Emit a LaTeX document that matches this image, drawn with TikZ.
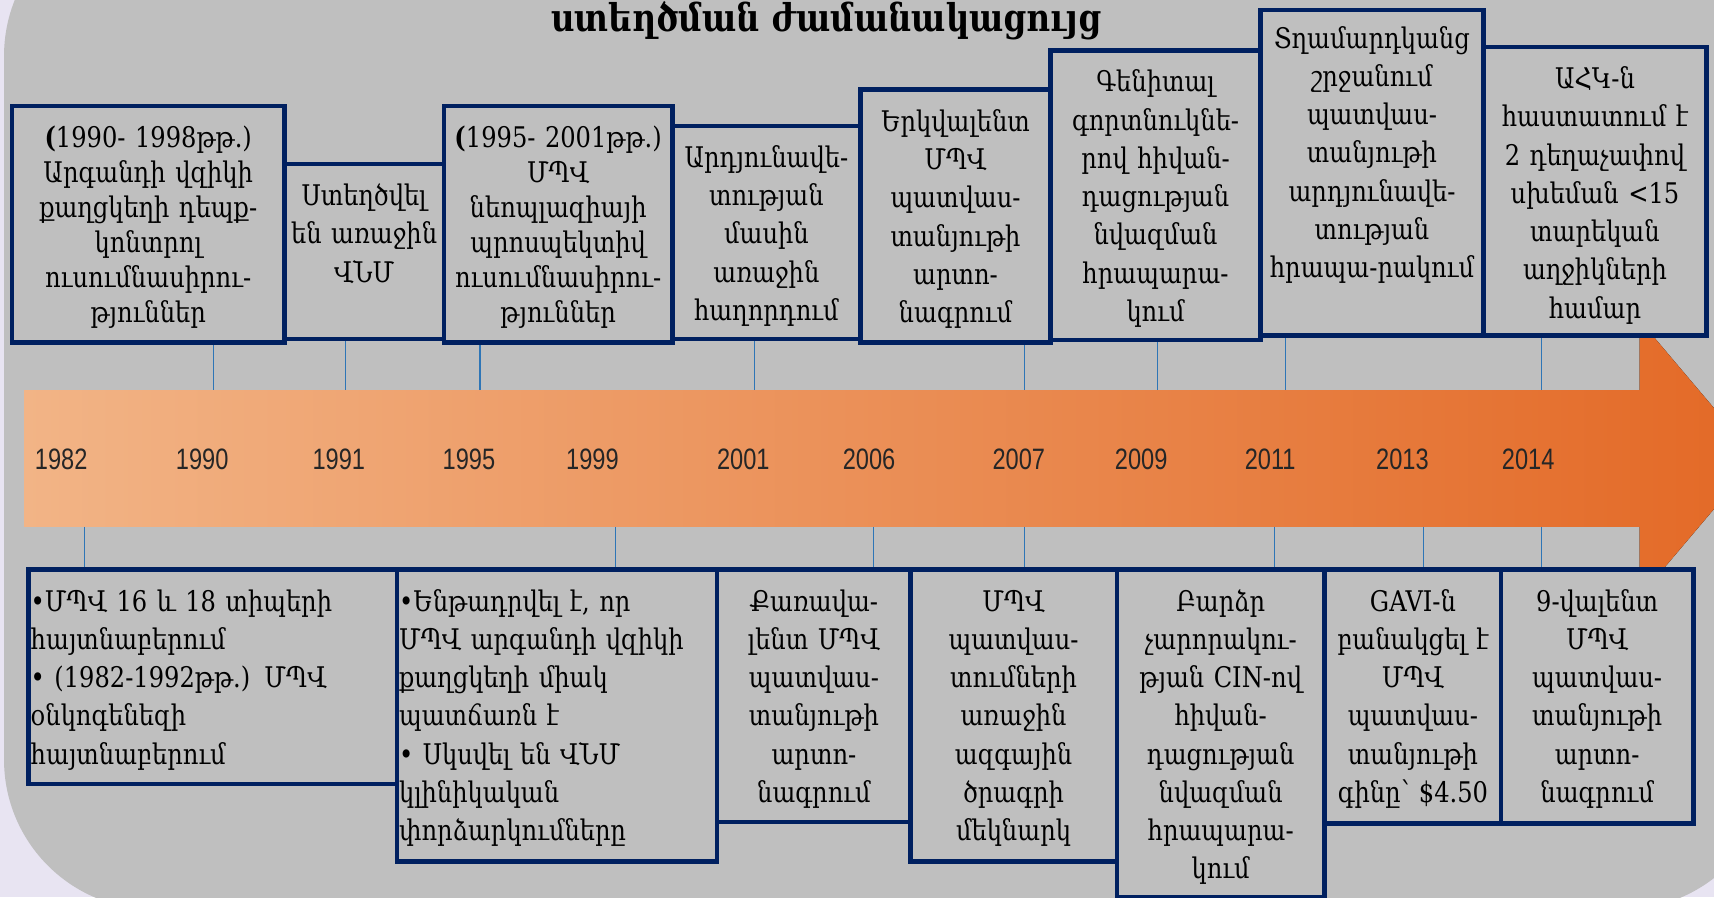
\documentclass[tikz,border=0pt]{standalone}
\usepackage{fontspec}
\setmainfont{DejaVu Serif}[FakeStretch=0.85]
\newfontfamily\yearfont{Liberation Sans}[FakeStretch=0.8]
\usetikzlibrary{positioning, backgrounds}
\definecolor{lav}{RGB}{232,228,242}
\definecolor{panel}{RGB}{191,191,191}
\definecolor{navy}{RGB}{0,32,96}
\definecolor{tickblue}{RGB}{46,117,182}
\definecolor{peach}{RGB}{242,180,134}
\definecolor{burnt}{RGB}{227,105,38}
\definecolor{yeargray}{RGB}{38,38,38}

\begin{document}
\begin{tikzpicture}[x=1pt, y=-1pt,
        card/.style={draw=navy, fill=panel, line width=4.2pt, inner xsep=3pt, inner ysep=0pt, text height=38pt, anchor=north west, align=center, font=\fontsize{26}{35}\selectfont},
        tightcard/.style={card, font=\fontsize{26}{32}\selectfont},
        leftcard/.style={card, inner xsep=2pt, align=left},
        year/.style={font=\yearfont\fontsize{27}{30}\selectfont, text=yeargray},
        tick/.style={draw=tickblue, line width=1.2pt},
        heading/.style={anchor=base, font=\bfseries\fontsize{35}{40}\selectfont}
    ]
        \useasboundingbox (0,0) rectangle (1568,821);

        % PANEL AND TIME ARROW
        \begin{scope}[on background layer]
            \clip (0,0) rectangle (1568,821);
            \fill[lav] (0,0) rectangle (1568,821);
            \fill[panel, rounded corners=137pt] (3.7,-86) rectangle (1621,832);
            \fill[left color=peach, right color=burnt] (22,357) -- (1500,357) -- (1500,293) -- (1607,419.5) -- (1500,546) -- (1500,482) -- (22,482) -- cycle;
        \end{scope}

        % TITLE
        \node[heading] (title) at (756,29) {ստեղծման ժամանակացույց};

        % UPPER EVENTS
        \node[tightcard, text width=243pt, text depth=178pt] (up1) at (9,95) {\textbf{(}1990- 1998թթ.)\\Արգանդի վզիկի\\քաղցկեղի դեպք-\\կոնտրոլ\\ուսումնասիրու-\\թյուններ};
        \node[card, text width=140pt, text depth=122pt] (up2) at (258,148) {Ստեղծվել\\են առաջին\\ՎՆՄ};
        \node[tightcard, text width=203pt, text depth=178pt] (up3) at (404,95) {\textbf{(}1995- 2001թթ.)\\ՄՊՎ\\նեոպլազիայի\\պրոսպեկտիվ\\ուսումնասիրու-\\թյուններ};
        \node[card, text width=166pt, text depth=157pt] (up4) at (613,113) {Արդյունավե-\\տության\\մասին\\առաջին\\հաղորդում};
        \node[card, text width=168pt, text depth=193pt] (up5) at (785,80) {Երկվալենտ\\ՄՊՎ\\պատվաս-\\տանյութի\\արտո-\\նագրում};
        \node[card, text width=186pt, text depth=227pt] (up6) at (959,44) {Գենիտալ\\գորտնուկնե-\\րով հիվան-\\դացության\\նվազման\\հրապարա-\\կում};
        \node[card, text width=198pt, text depth=263pt, text height=35pt] (up7) at (1151,7) {Տղամարդկանց\\շրջանում\\պատվաս-\\տանյութի\\արդյունավե-\\տության\\հրապա-րակում};
        \node[card, text width=198pt, text depth=226pt] (up8) at (1355,41) {ԱՀԿ-ն\\հաստատում է\\2 դեղաչափով\\սխեման <15\\տարեկան\\աղջիկների\\համար};

        % LOWER EVENTS
        \node[leftcard, text width=333pt, text depth=158pt] (dn1) at (24,519) {•ՄՊՎ 16 և 18 տիպերի\\հայտնաբերում\\• (1982-1992թթ.) ՄՊՎ\\օնկոգենեզի\\հայտնաբերում};
        \node[leftcard, text width=289pt, text depth=229pt] (dn2) at (361,519) {•Ենթադրվել է, որ\\ՄՊՎ արգանդի վզիկի\\քաղցկեղի միակ\\պատճառն է\\• Սկսվել են ՎՆՄ\\կլինիկական\\փորձարկումները};
        \node[card, text width=171pt, text depth=193pt] (dn3) at (654,519) {Քառավա-\\լենտ ՄՊՎ\\պատվաս-\\տանյութի\\արտո-\\նագրում};
        \node[card, text width=183pt, text depth=229pt] (dn4) at (830.6,519) {ՄՊՎ\\պատվաս-\\տումների\\առաջին\\ազգային\\ծրագրի\\մեկնարկ};
        \node[card, text width=184pt, text depth=262pt] (dn5) at (1019.6,519) {Բարձր\\չարորակու-\\թյան CIN-ով\\հիվան-\\դացության\\նվազման\\հրապարա-\\կում};
        \node[card, text width=155pt, text depth=194pt] (dn6) at (1210,519) {GAVI-ն\\բանակցել է\\ՄՊՎ\\պատվաս-\\տանյութի\\գինը՝ \$4.50};
        \node[card, text width=170pt, text depth=194pt] (dn7) at (1371,519) {9-վալենտ\\ՄՊՎ\\պատվաս-\\տանյութի\\արտո-\\նագրում};

        % YEARS ON THE ARROW
        \node[year] (y1982) at (56,420) {1982};
        \node[year] (y1990) at (185,420) {1990};
        \node[year] (y1991) at (310,420) {1991};
        \node[year] (y1995) at (429,420) {1995};
        \node[year] (y1999) at (542,420) {1999};
        \node[year] (y2001) at (680,420) {2001};
        \node[year] (y2006) at (795,420) {2006};
        \node[year] (y2007) at (932,420) {2007};
        \node[year] (y2009) at (1044,420) {2009};
        \node[year] (y2011) at (1162,420) {2011};
        \node[year] (y2013) at (1283,420) {2013};
        \node[year] (y2014) at (1398,420) {2014};

        % TICKS
        \coordinate (t1990) at (195,357);
        \coordinate (t1991) at (316,357);
        \coordinate (t1995) at (439,357);
        \coordinate (t2001) at (690,357);
        \coordinate (t2007) at (937,357);
        \coordinate (t2009) at (1059,357);
        \coordinate (t2011) at (1176,357);
        \coordinate (t2014) at (1410,357);
        \coordinate (b1982) at (77,482);
        \coordinate (b1999) at (563,482);
        \coordinate (b2006) at (799,482);
        \coordinate (b2007) at (937,482);
        \coordinate (b2011) at (1166,482);
        \coordinate (b2013) at (1302,482);
        \coordinate (b2014) at (1410,482);
        \begin{scope}[on background layer]
            \foreach \yr/\card in {1990/up1, 1991/up2, 1995/up3, 2001/up4, 2007/up5, 2009/up6, 2011/up7, 2014/up8}
                \draw[tick] (\card.south -| t\yr) -- (t\yr);
            \foreach \yr/\card in {1982/dn1, 1999/dn2, 2006/dn3, 2007/dn4, 2011/dn5, 2013/dn6, 2014/dn7}
                \draw[tick] (b\yr) -- (\card.north -| b\yr);
        \end{scope}
    \end{tikzpicture}
\end{document}
